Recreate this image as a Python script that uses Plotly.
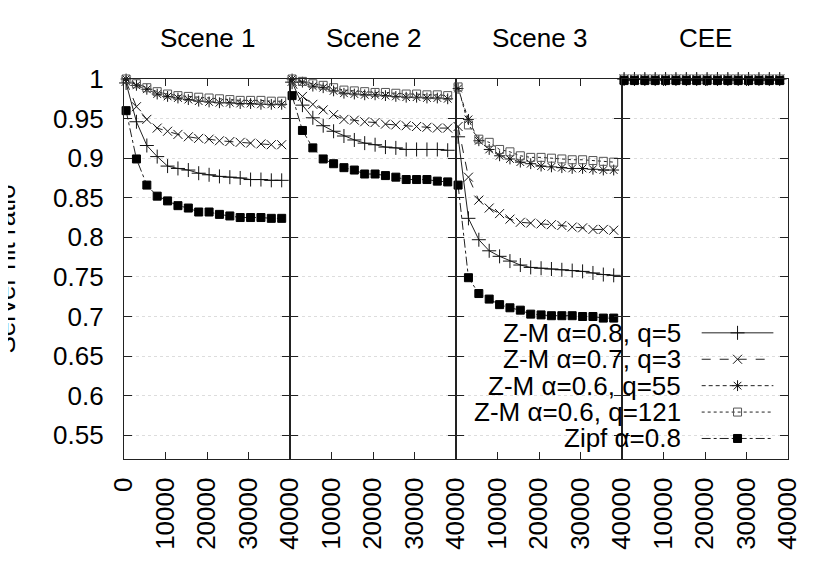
import plotly.graph_objects as go
from plotly.subplots import make_subplots

### data ###
scenes = ['Scene 1', 'Scene 2', 'Scene 3', 'CEE']
requests = [500, 3000, 5500, 8000, 10500, 13000, 15500, 18000,
            20500, 23000, 25500, 28000, 30500, 33000, 35500, 38000]

zm_08_q5 = [
    [0.995, 0.946, 0.916, 0.902, 0.890, 0.887, 0.885, 0.881, 0.879, 0.877, 0.876, 0.875, 0.873, 0.873, 0.872, 0.872],
    [0.996, 0.967, 0.951, 0.941, 0.934, 0.928, 0.923, 0.919, 0.917, 0.914, 0.913, 0.911, 0.911, 0.911, 0.911, 0.910],
    [0.927, 0.824, 0.797, 0.783, 0.776, 0.770, 0.765, 0.762, 0.761, 0.760, 0.759, 0.758, 0.757, 0.755, 0.753, 0.752],
    [1.0] * 16,
]
zm_07_q3 = [
    [0.997, 0.965, 0.949, 0.938, 0.934, 0.930, 0.927, 0.925, 0.924, 0.922, 0.921, 0.920, 0.919, 0.918, 0.917, 0.917],
    [0.997, 0.978, 0.968, 0.961, 0.955, 0.949, 0.948, 0.946, 0.945, 0.943, 0.942, 0.941, 0.940, 0.939, 0.938, 0.938],
    [0.940, 0.876, 0.847, 0.837, 0.830, 0.823, 0.819, 0.818, 0.817, 0.816, 0.815, 0.813, 0.812, 0.810, 0.810, 0.809],
    [1.0] * 16,
]
zm_06_q55 = [
    [1.0, 0.992, 0.987, 0.981, 0.978, 0.976, 0.974, 0.972, 0.971, 0.970, 0.970, 0.969, 0.969, 0.968, 0.968, 0.968],
    [1.0, 0.996, 0.991, 0.989, 0.985, 0.982, 0.981, 0.980, 0.980, 0.979, 0.978, 0.977, 0.977, 0.976, 0.976, 0.975],
    [0.988, 0.949, 0.922, 0.911, 0.903, 0.899, 0.895, 0.893, 0.890, 0.889, 0.888, 0.887, 0.887, 0.886, 0.885, 0.885],
    [1.0] * 16,
]
zm_06_q121 = [
    [1.0, 0.994, 0.989, 0.984, 0.981, 0.979, 0.978, 0.977, 0.976, 0.975, 0.974, 0.973, 0.973, 0.973, 0.972, 0.972],
    [1.0, 0.997, 0.994, 0.992, 0.989, 0.986, 0.985, 0.984, 0.983, 0.983, 0.982, 0.981, 0.981, 0.980, 0.980, 0.979],
    [0.990, 0.942, 0.924, 0.920, 0.911, 0.908, 0.903, 0.901, 0.901, 0.900, 0.899, 0.898, 0.898, 0.897, 0.896, 0.895],
    [1.0] * 16,
]
zipf_08 = [
    [0.960, 0.899, 0.866, 0.852, 0.846, 0.840, 0.837, 0.832, 0.832, 0.829, 0.827, 0.825, 0.825, 0.825, 0.824, 0.824],
    [0.979, 0.935, 0.913, 0.899, 0.893, 0.888, 0.885, 0.880, 0.880, 0.878, 0.876, 0.873, 0.873, 0.873, 0.871, 0.870],
    [0.866, 0.749, 0.729, 0.722, 0.715, 0.711, 0.708, 0.703, 0.702, 0.701, 0.701, 0.701, 0.700, 0.700, 0.698, 0.698],
    [0.998] * 16,
]

series_names = ['Z-M α=0.8, q=5', 'Z-M α=0.7, q=3', 'Z-M α=0.6, q=55',
                'Z-M α=0.6, q=121', 'Zipf α=0.8']
y_ticks = [0.55, 0.6, 0.65, 0.7, 0.75, 0.8, 0.85, 0.9, 0.95, 1.0]
y_labels = ['0.55', '0.6', '0.65', '0.7', '0.75', '0.8', '0.85', '0.9', '0.95', '1']
x_ticks_first = [0, 10000, 20000, 30000, 40000]
x_ticks_rest = [10000, 20000, 30000, 40000]

### styles (gnuplot look) ###
FONT = 'Liberation Sans, Arial, sans-serif'
styles = [
    dict(dash='solid', symbol='cross-thin-open', size=10, color='#111111'),
    dict(dash='dash', symbol='x-thin-open', size=9, color='#111111'),
    dict(dash='4px,3px', symbol='asterisk-open', size=9, color='#111111'),
    dict(dash='dot', symbol='square-open', size=8, color='#555555'),
    dict(dash='dashdot', symbol='square', size=8, color='#000000'),
]
all_series = [zm_08_q5, zm_07_q3, zm_06_q55, zm_06_q121, zipf_08]

fig = make_subplots(rows=1, cols=4, shared_yaxes=True, horizontal_spacing=0,
                    subplot_titles=scenes)

for col in range(1, 5):
    for name, data, st in zip(series_names, all_series, styles):
        fig.add_trace(go.Scatter(
            x=requests,
            y=data[col - 1],
            name=name,
            mode='lines+markers',
            line=dict(color='#222222', width=1, dash=st['dash']),
            marker=dict(symbol=st['symbol'], size=st['size'], color=st['color'],
                        line=dict(color=st['color'], width=1)),
            cliponaxis=False,
            showlegend=False,
        ), row=1, col=col)

    fig.update_xaxes(
        range=[0, 40000],
        tickvals=x_ticks_first if col == 1 else x_ticks_rest,
        ticktext=[str(v) for v in (x_ticks_first if col == 1 else x_ticks_rest)],
        tickangle=-90,
        ticks='inside', ticklen=7, tickwidth=1.3, tickcolor='#222222',
        showline=True, linecolor='#222222', linewidth=1.3, mirror='ticks',
        showgrid=False, zeroline=False, automargin=False,
        ticklabelstandoff=7,
        tickfont=dict(family=FONT, size=26, color='black'),
        row=1, col=col)
    fig.update_yaxes(
        range=[0.52, 1.0],
        tickvals=y_ticks, ticktext=y_labels,
        showticklabels=(col == 1),
        ticks='inside', ticklen=8, tickwidth=1.3, tickcolor='#222222',
        showline=True, linecolor='#222222', linewidth=1.3, mirror='ticks',
        showgrid=True, gridcolor='#dddddd', griddash='dot', gridwidth=1,
        zeroline=False, automargin=False,
        ticklabelstandoff=14,
        tickfont=dict(family=FONT, size=26, color='black'),
        row=1, col=col)

fig.update_annotations(font=dict(family=FONT, size=26, color='black'), yshift=24)

### legend drawn gnuplot-style: text right-aligned, sample on its right ###
leg_text_x = 0.842
leg_line = [0.870, 0.978]
leg_mid = 0.924
leg_top = 0.332
leg_step = 0.0695
fig.update_layout(
    xaxis5=dict(domain=[0, 1], range=[0, 1], visible=False, anchor='y5'),
    yaxis5=dict(domain=[0, 1], range=[0, 1], visible=False, anchor='x5'),
)
for i, (name, st) in enumerate(zip(series_names, styles)):
    ly = leg_top - i * leg_step
    fig.add_annotation(text=name, xref='paper', yref='paper', x=leg_text_x, y=ly,
                       xanchor='right', yanchor='middle', showarrow=False,
                       font=dict(family=FONT, size=26, color='black'))
    fig.add_trace(go.Scatter(x=leg_line, y=[ly, ly], mode='lines',
                             line=dict(color='#222222', width=1, dash=st['dash']),
                             xaxis='x5', yaxis='y5', showlegend=False, hoverinfo='skip'))
    fig.add_trace(go.Scatter(x=[leg_mid], y=[ly], mode='markers',
                             marker=dict(symbol=st['symbol'], size=st['size'], color=st['color'],
                                         line=dict(color=st['color'], width=1)),
                             xaxis='x5', yaxis='y5', showlegend=False, hoverinfo='skip'))

fig.add_annotation(text='Server hit ratio', xref='paper', yref='paper',
                   x=-0.177, y=0.5, xanchor='center', yanchor='middle',
                   textangle=-90, showarrow=False,
                   font=dict(family=FONT, size=26, color='black'))

# page body adds an 8px offset, so the figure is 8px smaller on each axis
fig.update_layout(
    width=822, height=573,
    margin=dict(l=116, r=42, t=71, b=122, autoexpand=False),
    plot_bgcolor='rgba(0,0,0,0)', paper_bgcolor='white',
    showlegend=False,
    font=dict(family=FONT, color='black'),
)

fig.write_html("out.html")
